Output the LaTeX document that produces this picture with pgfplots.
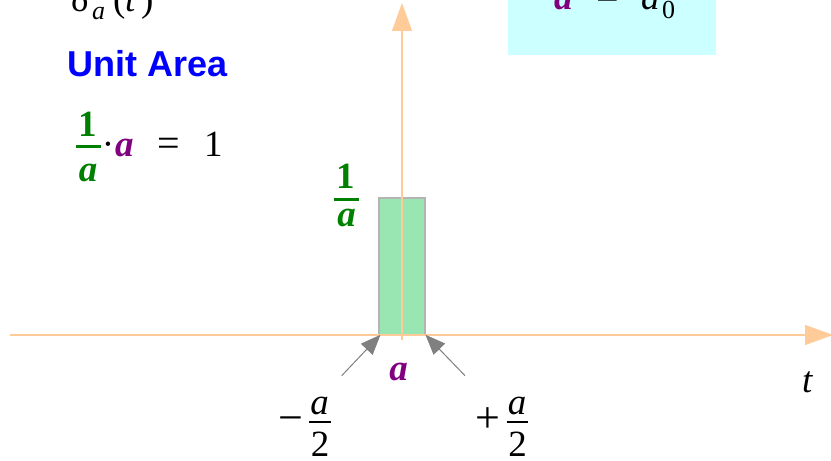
\documentclass[border=0pt]{standalone}
\usepackage{pgfplots}
\pgfplotsset{compat=1.18}
\usetikzlibrary{arrows.meta}
\usepackage{fontspec}
\setmainfont{Liberation Serif}
\newfontfamily\sansf{Liberation Sans}
\definecolor{peach}{RGB}{255,204,153}
\definecolor{rectgreen}{RGB}{153,230,179}
\definecolor{rectedge}{RGB}{180,180,180}
\definecolor{mgreen}{RGB}{0,128,0}
\definecolor{mpurple}{RGB}{128,0,128}
\definecolor{mcyan}{RGB}{204,255,255}
\definecolor{agray}{RGB}{128,128,128}
\newcommand\fs{\fontsize{37}{40}\selectfont}
\newcommand\fss{\fontsize{26}{28}\selectfont}
\newcommand\fsb{\fontsize{44}{48}\selectfont}
\begin{document}
\begin{tikzpicture}
\useasboundingbox (0,0) rectangle (831pt,461pt);
\fill[mcyan] (508pt,406pt) rectangle (716pt,461pt);
\begin{axis}[at={(10pt,121pt)}, anchor=south west, scale only axis,
  width=823pt, height=337pt,
  xmin=-8.5217, xmax=9.3696, ymin=-0.0365, ymax=2.4234,
  axis lines*=middle, axis on top, xtick=\empty, ytick=\empty,
  axis line style={draw=peach, line width=1.5pt,
     -{Triangle[length=28pt,width=20pt,fill=peach]}},
  clip=false]
\addplot[fill=rectgreen, draw=rectedge, line width=1.5pt]
  coordinates {(-0.5,0) (-0.5,1) (0.5,1) (0.5,0)} -- cycle;
\end{axis}
\begin{scope}[shift={(0pt,461pt)}, x=1pt, y=-1pt, every node/.style={inner sep=0pt}]
 % delta_a(t)
 \node[anchor=base west] at (71,12) {\fs δ};
 \node[anchor=base west] at (92,20) {\fss\itshape a};
 \node[anchor=base west] at (113,12) {\fs (};
 \node[anchor=base west] at (125,12) {\fs\itshape t};
 \node[anchor=base west] at (141,12) {\fs )};
 % Unit Area
 \node[anchor=base west, text=blue] at (67,77) {\sansf\bfseries\fontsize{36}{40}\selectfont Unit Area};
 % 1/a . a = 1
 \node[anchor=base, text=mgreen] at (88,137) {\fs\bfseries 1};
 \fill[mgreen] (76,145.4) rectangle (101,148);
 \node[anchor=base, text=mgreen] at (88,182) {\fs\bfseries\itshape a};
 \node[anchor=base] at (108,157) {\fs ·};
 \node[anchor=base west, text=mpurple] at (115,157) {\fs\bfseries\itshape a};
 \node[anchor=base west] at (157,157) {\fontsize{40}{44}\selectfont =};
 \node[anchor=base west] at (204,157) {\fs 1};
 % 1/a near rect
 \node[anchor=base, text=mgreen] at (345.5,189) {\fs\bfseries 1};
 \fill[mgreen] (334,198.5) rectangle (359,201);
 \node[anchor=base, text=mgreen] at (346.5,227) {\fs\bfseries\itshape a};
 % a under rect
 \node[anchor=base, text=mpurple] at (398.5,381) {\fs\bfseries\itshape a};
 % -a/2
 \node[anchor=base west] at (278,433) {\fsb −};
 \node[anchor=base] at (319.5,415) {\fs\itshape a};
 \fill (309,420.8) rectangle (331,422.8);
 \node[anchor=base] at (320,456) {\fs 2};
 % +a/2
 \node[anchor=base west] at (475,433) {\fsb +};
 \node[anchor=base] at (517,415) {\fs\itshape a};
 \fill (507,420.8) rectangle (528,422.8);
 \node[anchor=base] at (517.5,456) {\fs 2};
 % t
 \node[anchor=base west] at (802,393) {\fs\itshape t};
 % a = a_0
 \node[anchor=base west, text=mpurple] at (554,10) {\fs\bfseries\itshape a};
 \node[anchor=base west] at (596,10) {\fontsize{40}{44}\selectfont =};
 \node[anchor=base west] at (641,10) {\fs\itshape a};
 \node[anchor=base west] at (662,19) {\fss 0};
 % arrows
 \draw[agray, line width=1pt, -{Triangle[length=20pt,width=16pt]}] (341.7,375.7) -- (380.5,334.8);
 \draw[agray, line width=1pt, -{Triangle[length=20pt,width=16pt]}] (465,375.7) -- (425.5,334.8);
\end{scope}
\end{tikzpicture}
\end{document}
